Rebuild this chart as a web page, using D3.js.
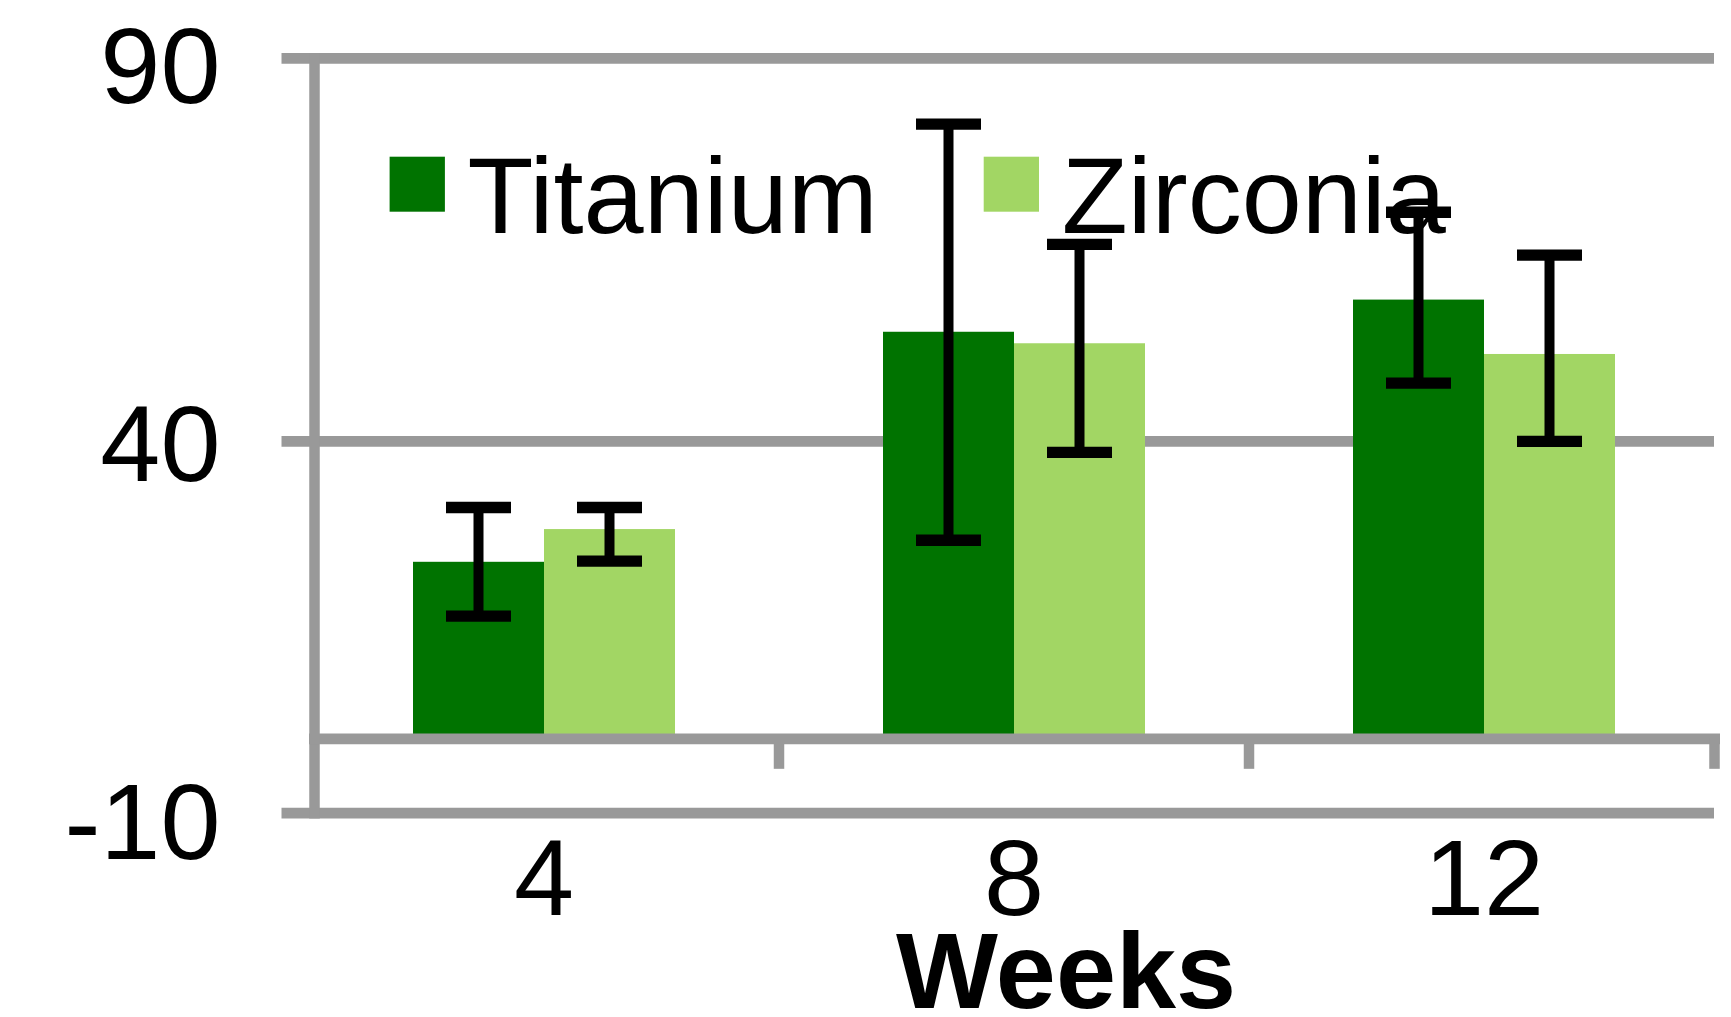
<!DOCTYPE html>
<html>
<head>
<meta charset="utf-8">
<script src="https://cdn.jsdelivr.net/npm/d3@7"></script>
<style>
  html, body { margin: 0; padding: 0; background: #fff; }
  svg { display: block; }
  text { font-family: "Liberation Sans", Arial, sans-serif; fill: #000; }
</style>
</head>
<body>
<script>
// ---- data ----
const categories = ["4", "8", "12"];
const seriesNames = ["Titanium", "Zirconia"];
const titaniumValues = [23.8, 54.3, 58.5];
const titaniumHigh   = [31.1, 81.4, 69.9];
const titaniumLow    = [16.5, 26.7, 47.6];
const zirconiaValues = [28.2, 52.8, 51.4];
const zirconiaHigh   = [31.1, 65.7, 64.3];
const zirconiaLow    = [23.9, 38.5, 40.0];
const yTicks = [90, 40, -10];
const xTitle = "Weeks";

const colors = { Titanium: "#007300", Zirconia: "#a2d664" };
const gridColor = "#999999";

const W = 1731, H = 1017;
const svg = d3.select("body").append("svg").attr("width", W).attr("height", H);

const y = d3.scaleLinear().domain([-10, 40, 90]).range([813.2, 441.3, 58.3]);
const x = d3.scaleBand().domain(categories).range([309, 1719]).paddingInner(0).paddingOuter(0);
const barW = 131;
const x1 = d3.scaleBand().domain(seriesNames).range([-barW, barW]);

const rows = categories.map((c, i) => ({
  cat: c,
  values: [
    { cat: c, s: "Titanium", v: titaniumValues[i], hi: titaniumHigh[i], lo: titaniumLow[i] },
    { cat: c, s: "Zirconia", v: zirconiaValues[i], hi: zirconiaHigh[i], lo: zirconiaLow[i] }
  ]
}));
const flat = rows.flatMap(r => r.values);
const barCenter = d => x(d.cat) + x.bandwidth() / 2 + x1(d.s) + x1.bandwidth() / 2;

// gridlines (with outward y ticks)
svg.append("g").selectAll("line").data(yTicks).join("line")
  .attr("x1", 281.5).attr("x2", 1714)
  .attr("y1", d => y(d)).attr("y2", d => y(d))
  .attr("stroke", gridColor).attr("stroke-width", 10.7);

// bars
svg.append("g").selectAll("rect").data(flat).join("rect")
  .attr("x", d => x(d.cat) + x.bandwidth() / 2 + x1(d.s))
  .attr("width", x1.bandwidth())
  .attr("y", d => y(d.v))
  .attr("height", d => y(0) - y(d.v))
  .attr("fill", d => colors[d.s]);

// y axis line
svg.append("line")
  .attr("x1", 314.5).attr("x2", 314.5)
  .attr("y1", y(90) - 5.3).attr("y2", y(-10) + 5.3)
  .attr("stroke", gridColor).attr("stroke-width", 10.5);

// x axis
const xAxisG = svg.append("g");
xAxisG.append("line")
  .attr("x1", 309).attr("x2", 1720)
  .attr("y1", y(0)).attr("y2", y(0))
  .attr("stroke", gridColor).attr("stroke-width", 10.7);
const boundaries = categories.slice(1).map(c => x(c)).concat([x.range()[1] - 4.5]);
xAxisG.selectAll("line.tick").data(boundaries).join("line")
  .attr("class", "tick")
  .attr("x1", d => d).attr("x2", d => d)
  .attr("y1", y(0)).attr("y2", y(0) + 30)
  .attr("stroke", gridColor).attr("stroke-width", 10.5);

// y tick labels
const labelOffset = { 90: 44.7, 40: 39.4, "-10": 45.3 };
svg.append("g").selectAll("text").data(yTicks).join("text")
  .attr("x", 220.5).attr("y", d => y(d) + labelOffset[d])
  .attr("text-anchor", "end")
  .attr("font-size", 108)
  .text(d => d);

// x tick labels
svg.append("g").selectAll("text").data(categories).join("text")
  .attr("x", d => x(d) + x.bandwidth() / 2)
  .attr("y", 914.8)
  .attr("text-anchor", "middle")
  .attr("font-size", 108)
  .text(d => d);

// x title
svg.append("text")
  .attr("x", 1066).attr("y", 1008)
  .attr("text-anchor", "middle")
  .attr("font-size", 108).attr("font-weight", "bold")
  .text(xTitle);

// legend
const legendX = [389.6, 983.7];
const leg = svg.append("g").selectAll("g").data(seriesNames).join("g")
  .attr("transform", (d, i) => `translate(${legendX[i]},156.7)`);
leg.append("rect").attr("width", 55.3).attr("height", 55).attr("fill", d => colors[d]);
leg.append("text").attr("x", 78).attr("y", 76.6).attr("font-size", 108).text(d => d);

// error bars (on top of everything)
const eb = svg.append("g").selectAll("g").data(flat).join("g")
  .attr("transform", d => `translate(${barCenter(d)},0)`);
eb.append("line")
  .attr("x1", 0).attr("x2", 0)
  .attr("y1", d => y(d.hi)).attr("y2", d => y(d.lo))
  .attr("stroke", "#000").attr("stroke-width", 10);
eb.append("line")
  .attr("x1", -32.5).attr("x2", 32.5)
  .attr("y1", d => y(d.hi)).attr("y2", d => y(d.hi))
  .attr("stroke", "#000").attr("stroke-width", 11.3);
eb.append("line")
  .attr("x1", -32.5).attr("x2", 32.5)
  .attr("y1", d => y(d.lo)).attr("y2", d => y(d.lo))
  .attr("stroke", "#000").attr("stroke-width", 11.3);
</script>
</body>
</html>
